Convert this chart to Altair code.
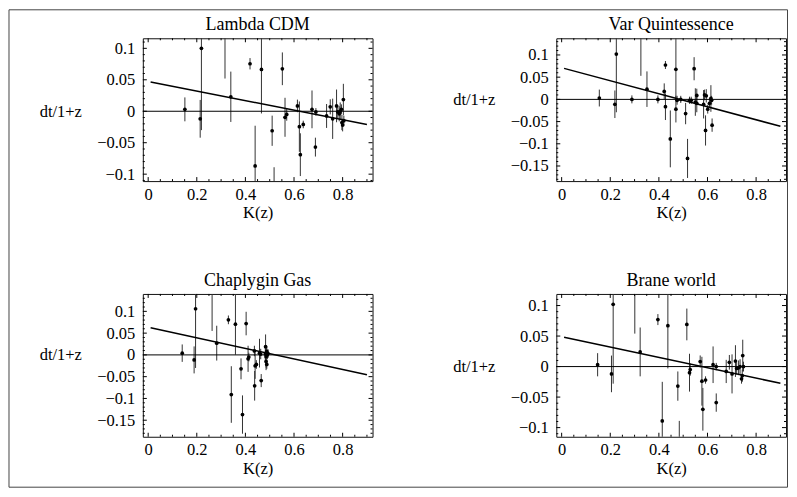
import altair as alt
import pandas as pd

# ---------------- data ----------------
titles = ["Lambda CDM", "Var Quintessence", "Chaplygin Gas", "Brane world"]

lcdm_x = [0.151, 0.214, 0.219, 0.316, 0.340, 0.419, 0.440, 0.466, 0.518, 0.510, 0.552, 0.563, 0.570, 0.614, 0.622, 0.626,
          0.638, 0.674, 0.690, 0.688, 0.734, 0.749, 0.759, 0.775, 0.780, 0.786, 0.790, 0.795, 0.797, 0.803, 0.800, 0.805]
lcdm_y = [0.003, -0.012, 0.100, 0.150, 0.023, 0.0755, -0.087, 0.0665, -0.135, -0.031, 0.0675, -0.0096, -0.005, 0.0085, -0.0245, -0.069,
          -0.021, 0.003, -0.001, -0.057, -0.0075, 0.007, -0.012, 0.0085, -0.001, -0.004, 0.0, 0.003, -0.018, 0.0186, -0.022, -0.015]
lcdm_e = [0.019, 0.030, 0.130, 0.098, 0.040, 0.009, 0.064, 0.070, 0.046, 0.024, 0.026, 0.031, 0.010, 0.010, 0.040, 0.034,
          0.006, 0.030, 0.006, 0.015, 0.019, 0.012, 0.032, 0.026, 0.010, 0.012, 0.014, 0.008, 0.012, 0.025, 0.010, 0.008]
lcdm_line_x = [0.01, 0.90]
lcdm_line_y = [0.0466, -0.0211]

vq_x = [0.155, 0.219, 0.225, 0.326, 0.351, 0.289, 0.396, 0.422, 0.427, 0.427, 0.447, 0.470, 0.470, 0.475, 0.490, 0.510,
        0.518, 0.526, 0.533, 0.545, 0.556, 0.550, 0.556, 0.584, 0.588, 0.595, 0.592, 0.601, 0.608, 0.614, 0.619, 0.617]
vq_y = [0.003, -0.011, 0.102, 0.150, 0.023, 0.0, 0.0, 0.018, 0.0774, -0.0165, -0.089, 0.0677, -0.022, -0.002, 0.0, -0.032,
        -0.133, -0.002, -0.002, 0.069, 0.009, -0.006, -0.009, -0.011, 0.010, 0.008, -0.070, -0.022, -0.009, 0.002, -0.058, -0.002]
vq_e = [0.019, 0.031, 0.131, 0.097, 0.040, 0.009, 0.009, 0.018, 0.009, 0.030, 0.064, 0.070, 0.030, 0.010, 0.008, 0.024,
        0.044, 0.008, 0.008, 0.026, 0.015, 0.031, 0.020, 0.032, 0.012, 0.015, 0.034, 0.010, 0.010, 0.030, 0.015, 0.010]
vq_line_x = [0.01, 0.90]
vq_line_y = [0.0698, -0.0606]

cg_x = [0.140, 0.189, 0.195, 0.263, 0.282, 0.330, 0.359, 0.342, 0.382, 0.388, 0.403, 0.411, 0.414, 0.437, 0.440, 0.438,
        0.445, 0.458, 0.463, 0.465, 0.482, 0.485, 0.483, 0.488, 0.490, 0.485, 0.488, 0.493]
cg_y = [0.004, -0.0115, 0.106, 0.150, 0.027, 0.0805, 0.0705, -0.091, -0.032, -0.137, 0.072, -0.009, -0.005, 0.009, -0.025, -0.071,
        -0.022, 0.004, 0.002, -0.059, 0.002, -0.004, 0.019, 0.008, 0.0, -0.015, -0.022, 0.003]
cg_e = [0.020, 0.031, 0.136, 0.095, 0.040, 0.010, 0.070, 0.065, 0.024, 0.044, 0.027, 0.030, 0.010, 0.012, 0.030, 0.034,
        0.010, 0.033, 0.012, 0.015, 0.015, 0.025, 0.028, 0.012, 0.010, 0.020, 0.010, 0.010]
cg_line_x = [0.01, 0.90]
cg_line_y = [0.0622, -0.0457]

bw_x = [0.148, 0.205, 0.212, 0.301, 0.323, 0.396, 0.414, 0.437, 0.484, 0.478, 0.515, 0.526, 0.529, 0.570, 0.577, 0.581,
        0.592, 0.623, 0.636, 0.636, 0.677, 0.690, 0.701, 0.715, 0.720, 0.728, 0.734, 0.740, 0.745, 0.743, 0.748]
bw_y = [0.003, -0.012, 0.102, 0.150, 0.024, 0.077, -0.089, 0.067, -0.135, -0.032, 0.069, -0.010, -0.005, 0.0082, -0.024, -0.070,
        -0.022, 0.003, 0.0, -0.059, -0.008, 0.007, -0.012, 0.009, -0.003, -0.002, 0.0, -0.020, 0.018, -0.015, 0.0]
bw_e = [0.019, 0.030, 0.130, 0.096, 0.040, 0.009, 0.064, 0.070, 0.046, 0.024, 0.026, 0.031, 0.010, 0.010, 0.040, 0.035,
        0.006, 0.030, 0.006, 0.015, 0.019, 0.012, 0.032, 0.026, 0.010, 0.012, 0.012, 0.008, 0.026, 0.010, 0.008]
bw_line_x = [0.01, 0.90]
bw_line_y = [0.0481, -0.0274]

x_domain = [-0.022, 0.923]
y_domains = [[-0.111, 0.116], [-0.184, 0.1376], [-0.188, 0.140], [-0.115, 0.119]]
x_tick_labels = [0, 0.2, 0.4, 0.6, 0.8]
y_tick_labels = [[-0.1, -0.05, 0, 0.05, 0.1],
                 [-0.15, -0.1, -0.05, 0, 0.05, 0.1],
                 [-0.15, -0.1, -0.05, 0, 0.05, 0.1],
                 [-0.1, -0.05, 0, 0.05, 0.1]]
x_minor = [round(0.05 * i, 2) for i in range(0, 19) if i % 4 != 0]
y_minor_all = [round(0.01 * i, 2) for i in range(-19, 15) if i % 5 != 0]
y_major_all = [-0.15, -0.1, -0.05, 0, 0.05, 0.1]

FONT = "Liberation Serif"
W, H = 230, 143


def panel(idx, xs, ys, es, lx, ly, border=False):
    ydom = y_domains[idx]
    xs_ = alt.Scale(domain=x_domain, nice=False, zero=False)
    ys_ = alt.Scale(domain=ydom, nice=False, zero=False)
    zero_px = H * (ydom[1] - 0) / (ydom[1] - ydom[0])
    xaxis = alt.Axis(values=x_tick_labels, format="~g", title="K(z)", labelPadding=5,
                     titlePadding=2, labelFlush=False, labelOverlap=False)
    yaxis = alt.Axis(values=y_tick_labels[idx], format="~g", title="dt/1+z", labelPadding=8,
                     titleAngle=0, titleAlign="right", titleBaseline="middle",
                     titleX=-61.5, titleY=zero_px, labelFlush=False, labelOverlap=False)
    X = lambda f: alt.X(f, type="quantitative", scale=xs_, axis=xaxis)
    Y = lambda f: alt.Y(f, type="quantitative", scale=ys_, axis=yaxis)

    df = pd.DataFrame({"x": xs, "y": ys, "e": es})
    df["lo"] = df["y"] - df["e"]
    df["hi"] = df["y"] + df["e"]

    bars = alt.Chart(df).mark_rule(color="#333", strokeWidth=1, clip=True).encode(
        x=X("x"), y=Y("lo"), y2="hi")
    pts = alt.Chart(df).mark_circle(size=14, color="black", opacity=1, clip=True).encode(
        x=X("x"), y=Y("y"))
    zero = alt.Chart(pd.DataFrame({"z": [0]})).mark_rule(color="black", strokeWidth=1).encode(y=Y("z"))
    fit = alt.Chart(pd.DataFrame({"x": lx, "y": ly})).mark_line(color="black", strokeWidth=1.5).encode(
        x=X("x"), y=Y("y"))

    yminor = [v for v in y_minor_all if ydom[0] < v < ydom[1]]
    ymajor = [v for v in y_major_all if ydom[0] < v < ydom[1]]
    tdf_xM = pd.DataFrame({"t": x_tick_labels})
    tdf_xm = pd.DataFrame({"t": x_minor})
    tdf_yM = pd.DataFrame({"t": ymajor})
    tdf_ym = pd.DataFrame({"t": yminor})
    tick = dict(color="black", strokeWidth=1)
    ticks = [
        alt.Chart(tdf_xM).mark_rule(**tick).encode(x=X("t"), y=alt.value(H), y2=alt.value(H - 4)),
        alt.Chart(tdf_xM).mark_rule(**tick).encode(x=X("t"), y=alt.value(0), y2=alt.value(4)),
        alt.Chart(tdf_xm).mark_rule(**tick).encode(x=X("t"), y=alt.value(H), y2=alt.value(H - 2)),
        alt.Chart(tdf_xm).mark_rule(**tick).encode(x=X("t"), y=alt.value(0), y2=alt.value(2)),
        alt.Chart(tdf_yM).mark_rule(**tick).encode(y=Y("t"), x=alt.value(0), x2=alt.value(4)),
        alt.Chart(tdf_yM).mark_rule(**tick).encode(y=Y("t"), x=alt.value(W), x2=alt.value(W - 4)),
        alt.Chart(tdf_ym).mark_rule(**tick).encode(y=Y("t"), x=alt.value(0), x2=alt.value(2)),
        alt.Chart(tdf_ym).mark_rule(**tick).encode(y=Y("t"), x=alt.value(W), x2=alt.value(W - 2)),
    ]
    one = pd.DataFrame({"a": [0]})
    title = alt.Chart(one).mark_text(text=titles[idx], font=FONT, fontSize=18, color="black",
                                     baseline="alphabetic", align="center").encode(
        x=alt.value(W / 2), y=alt.value(-8))
    layers = [bars, zero, fit, pts, title] + ticks
    if border:
        bst = dict(color="#444", strokeWidth=1)
        L, T, R, B = -134, -28.5, 645.5, 449.5
        layers += [
            alt.Chart(one).mark_rule(**bst).encode(x=alt.value(L), y=alt.value(T), y2=alt.value(B)),
            alt.Chart(one).mark_rule(**bst).encode(x=alt.value(R), y=alt.value(T), y2=alt.value(B)),
            alt.Chart(one).mark_rule(**bst).encode(y=alt.value(T), x=alt.value(L), x2=alt.value(R)),
            alt.Chart(one).mark_rule(**bst).encode(y=alt.value(B), x=alt.value(L), x2=alt.value(R)),
        ]
    return alt.layer(*layers).properties(width=W, height=H)


p1 = panel(0, lcdm_x, lcdm_y, lcdm_e, lcdm_line_x, lcdm_line_y, border=True)
p2 = panel(1, vq_x, vq_y, vq_e, vq_line_x, vq_line_y)
p3 = panel(2, cg_x, cg_y, cg_e, cg_line_x, cg_line_y)
p4 = panel(3, bw_x, bw_y, bw_e, bw_line_x, bw_line_y)

chart = alt.concat(p1, p2, p3, p4, columns=2, spacing={"row": 113, "column": 184}, bounds="flush").properties(
    padding=0, background="white"
).configure_view(stroke="#111", strokeWidth=1).configure_axis(
    domain=False, ticks=False, tickSize=0, grid=False,
    labelFont=FONT, labelFontSize=16.5, labelColor="black",
    titleFont=FONT, titleFontSize=16.5, titleFontWeight="normal", titleColor="black"
)

chart.save("out.html", embed_options={"renderer": "svg", "actions": False})
